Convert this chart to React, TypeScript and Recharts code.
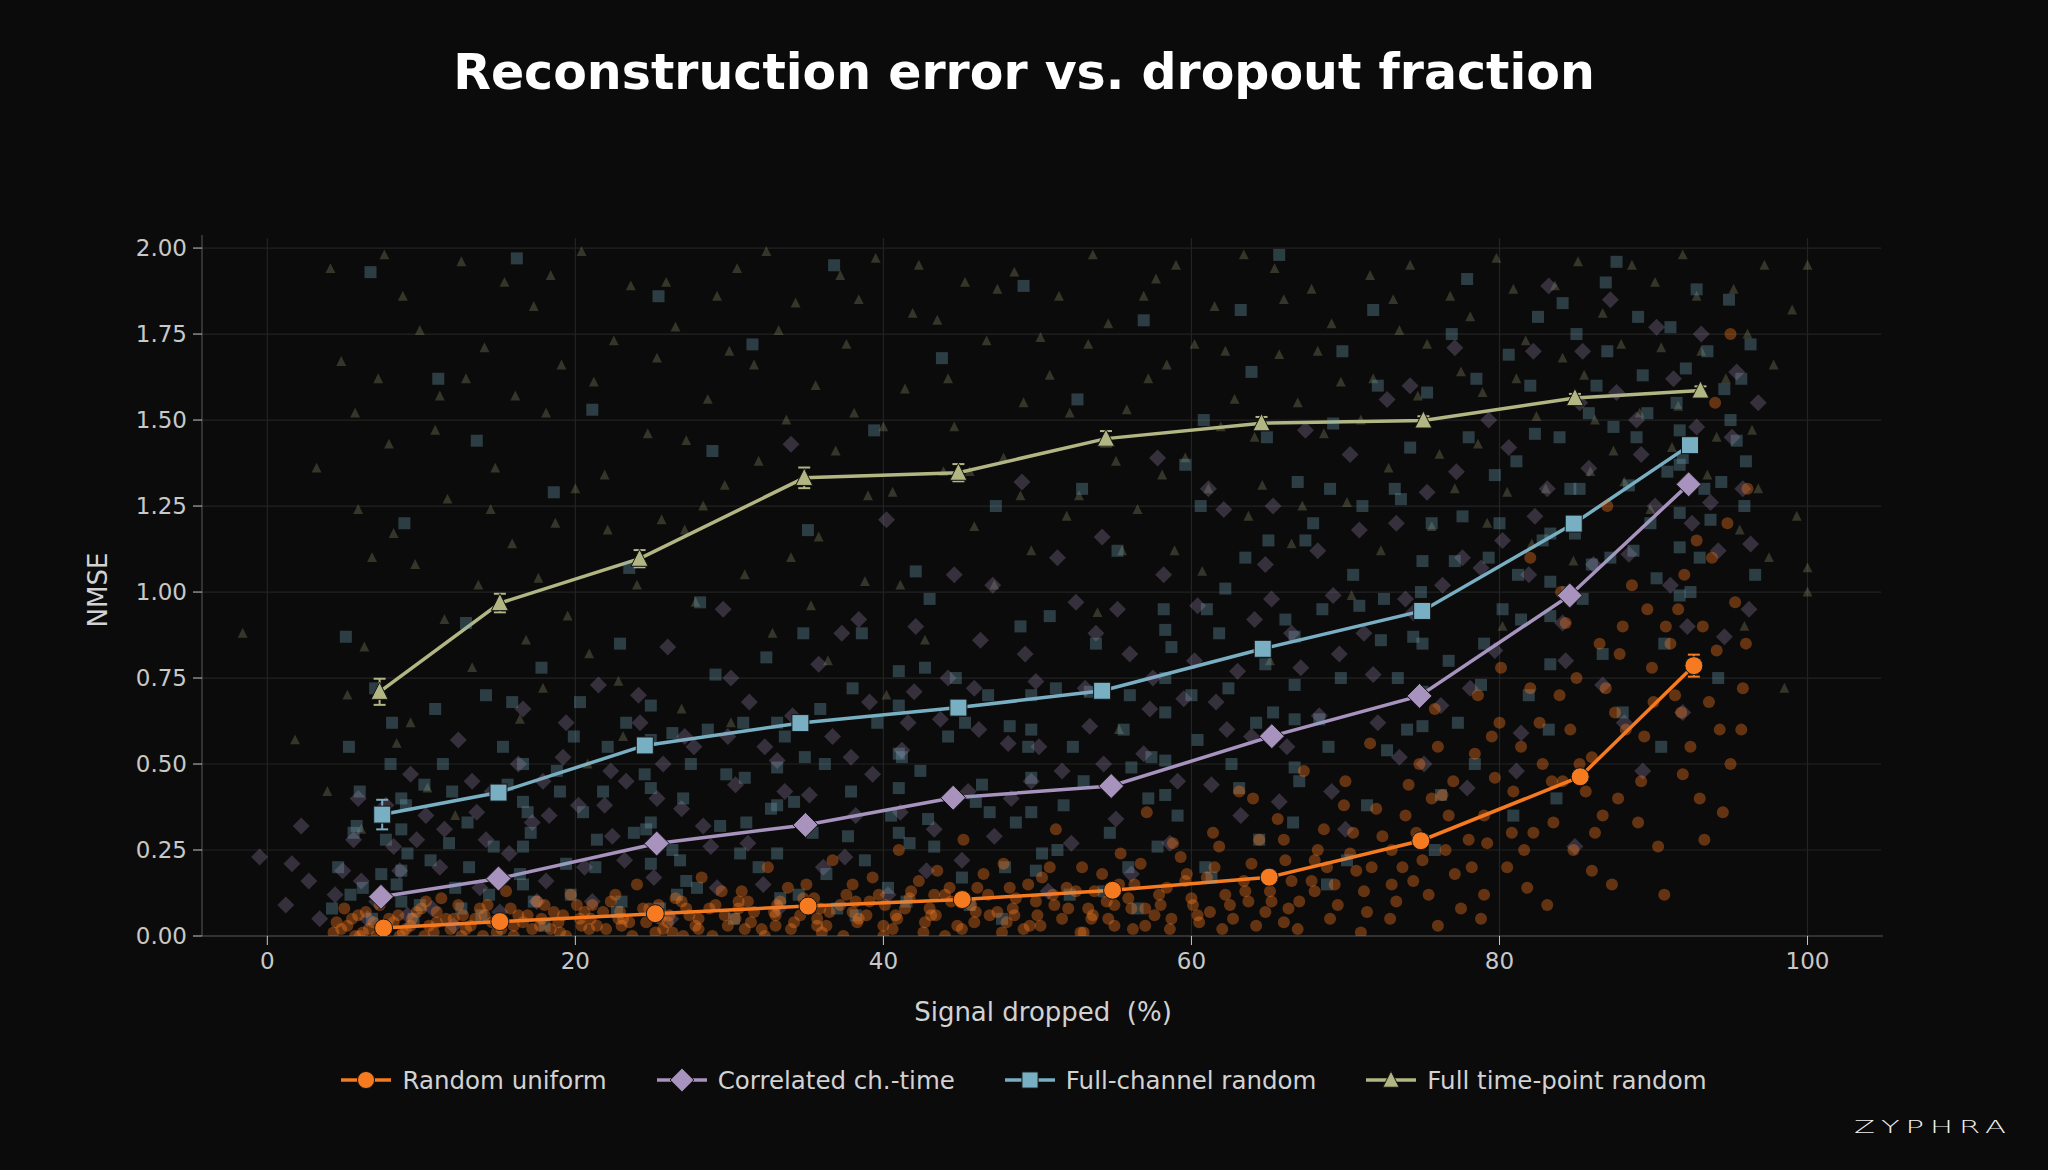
import React from 'react';
import {
  ComposedChart,
  Line,
  Scatter,
  XAxis,
  YAxis,
  ReferenceLine,
  ErrorBar
} from 'recharts';

// axis ticks
const xTicks = [0, 20, 40, 60, 80, 100];
const yTicks = [0, 0.25, 0.5, 0.75, 1.0, 1.25, 1.5, 1.75, 2.0];

// mean curves (bin centres, NMSE, std error)
const uniformX = [7.55, 15.1, 25.19, 35.11, 45.12, 54.88, 65.05, 74.89, 85.24, 92.62];
const uniformY = [0.023, 0.042, 0.065, 0.087, 0.106, 0.133, 0.171, 0.277, 0.463, 0.786];
const uniformErr = [0.005, 0.005, 0.005, 0.005, 0.005, 0.006, 0.007, 0.008, 0.012, 0.032];

const correlatedX = [7.38, 15.01, 25.28, 34.94, 44.53, 54.79, 65.22, 74.81, 84.56, 92.28];
const correlatedY = [0.114, 0.167, 0.269, 0.323, 0.402, 0.436, 0.581, 0.698, 0.99, 1.313];
const correlatedErr = [0.01, 0.008, 0.008, 0.008, 0.008, 0.008, 0.01, 0.01, 0.012, 0.015];

const channelX = [7.46, 15.01, 24.51, 34.61, 44.87, 54.2, 64.63, 74.98, 84.82, 92.37];
const channelY = [0.353, 0.417, 0.554, 0.619, 0.664, 0.713, 0.835, 0.945, 1.199, 1.427];
const channelErr = [0.043, 0.012, 0.01, 0.01, 0.01, 0.01, 0.01, 0.01, 0.012, 0.012];

const timeX = [7.29, 15.1, 24.17, 34.86, 44.87, 54.45, 64.55, 75.06, 84.9, 93.05];
const timeY = [0.71, 0.968, 1.097, 1.332, 1.347, 1.446, 1.491, 1.499, 1.564, 1.586];
const timeErr = [0.038, 0.027, 0.025, 0.03, 0.025, 0.022, 0.018, 0.012, 0.012, 0.012];

// per-trial clouds behind the curves [x, y]
const timeCloud = [
  [-1.6, 0.88], [1.8, 0.57], [3.2, 1.36], [4.1, 1.94], [4.8, 1.67], [5.9, 1.24], [6.3, 0.84], [7.2, 1.62],
  [7.9, 1.43], [8.4, 0.56], [8.8, 1.86], [9.6, 1.08], [10.4, 0.43], [11.2, 1.57], [11.7, 1.27], [12.6, 1.96],
  [13.3, 0.78], [14.1, 1.71], [14.8, 1.36], [15.9, 1.14], [16.4, 0.63], [17.3, 1.83], [18.1, 1.52], [18.7, 1.2],
  [19.5, 0.93], [20.4, 1.99], [21.2, 1.61], [21.9, 1.34], [22.8, 0.74], [23.6, 1.89], [24.7, 1.46], [25.6, 1.21],
  [26.5, 1.77], [27.8, 0.97], [28.6, 1.56], [29.7, 1.31], [30.5, 1.94], [31.6, 1.66], [32.8, 0.88], [33.7, 1.5],
  [34.3, 1.84], [35.8, 1.16], [36.9, 1.41], [37.6, 1.72], [38.8, 1.03], [39.5, 1.97], [40.6, 1.29], [41.4, 1.59],
  [42.7, 0.86], [43.5, 1.79], [44.6, 1.48], [45.9, 1.19], [46.7, 1.73], [47.8, 1.39], [48.5, 1.93], [49.6, 1.12],
  [50.8, 1.63], [51.4, 1.86], [52.7, 1.28], [53.9, 0.94], [54.6, 1.78], [55.8, 1.53], [56.5, 1.24], [57.7, 1.91],
  [58.4, 1.66], [59.6, 1.39], [60.7, 1.06], [61.5, 1.83], [62.8, 1.56], [63.4, 1.98], [64.6, 1.31], [65.7, 1.69],
  [66.5, 1.14], [67.8, 1.88], [68.6, 1.46], [69.7, 1.61], [70.4, 0.99], [71.6, 1.92], [72.8, 1.36], [73.5, 1.76],
  [74.7, 1.57], [75.6, 1.19], [76.8, 1.86], [77.5, 1.64], [78.6, 1.43], [79.8, 1.97], [80.5, 1.29], [81.7, 1.73],
  [82.4, 1.51], [83.6, 1.89], [84.8, 1.09], [85.5, 1.63], [86.7, 1.81], [87.4, 1.41], [88.6, 1.95], [89.8, 1.24],
  [90.5, 1.71], [91.6, 1.54], [92.8, 1.86], [93.5, 1.34], [94.7, 1.62], [95.6, 1.18], [96.4, 1.47], [97.8, 1.66],
  [98.5, 0.72], [100, 1.0], [100, 1.07], [100, 1.95], [6.1, 0.31], [12.2, 0.35], [20.8, 0.5], [30.1, 0.62],
  [40.2, 0.7], [55.3, 0.6], [65.1, 0.8], [80.2, 0.9], [17.6, 1.04], [27.1, 1.18], [38.1, 1.52], [58.9, 1.12],
  [5.2, 0.7], [6.8, 1.1], [9.3, 0.62], [10.9, 1.47], [13.7, 1.02], [15.4, 1.9], [17.9, 0.72], [19.1, 1.66],
  [22.1, 1.18], [23.1, 0.58], [25.3, 1.68], [27.2, 1.44], [29.2, 1.86], [31.0, 1.05], [33.2, 1.76], [35.3, 0.96],
  [37.2, 1.92], [39.0, 1.28], [41.9, 1.81], [43.9, 1.35], [45.3, 1.9], [47.2, 1.02], [49.1, 1.55], [51.9, 1.22],
  [53.3, 1.72], [55.1, 1.38], [57.2, 1.62], [59.0, 1.95], [61.1, 1.3], [62.2, 1.7], [64.1, 1.45], [66.0, 1.85],
  [67.2, 1.25], [69.1, 1.78], [71.0, 1.5], [72.3, 1.12], [74.2, 1.95], [76.1, 1.4], [78.1, 1.8], [79.2, 1.2],
  [81.1, 1.62], [83.0, 1.3], [85.1, 1.96], [86.2, 1.5], [88.1, 1.32], [90.1, 1.9], [91.2, 1.42], [93.1, 1.7],
  [95.2, 1.88], [96.8, 1.3], [99.0, 1.82], [97.2, 1.95],
  [3.9, 0.42], [5.7, 1.52], [7.6, 1.98], [8.2, 1.17], [9.9, 1.76], [11.5, 0.92], [12.9, 1.62], [14.5, 1.24],
  [16.1, 1.57], [16.8, 0.86], [18.4, 1.92], [20.0, 1.3], [20.9, 0.82], [22.5, 1.73], [24.0, 1.02], [25.9, 1.9],
  [26.9, 0.66], [28.3, 1.25], [30.0, 1.7], [31.9, 1.38], [32.4, 1.99], [34.0, 1.1], [35.6, 1.6], [36.4, 0.8],
  [38.4, 1.85], [40.0, 1.48], [41.1, 1.02], [42.3, 1.95], [44.2, 1.62], [45.6, 1.35], [47.4, 1.88], [48.9, 1.28],
  [50.2, 1.74], [52.1, 1.52], [53.6, 1.98], [55.5, 1.12], [56.9, 1.86], [58.1, 1.34], [60.2, 1.72], [61.9, 1.48],
  [63.7, 1.22], [65.4, 1.94], [66.9, 1.55], [68.2, 1.7], [70.1, 1.26], [71.8, 1.62], [73.1, 1.85], [75.3, 1.72],
  [77.1, 1.3], [78.9, 1.58], [80.9, 1.88], [82.1, 1.14], [84.1, 1.68], [85.9, 1.35], [87.9, 1.72], [89.1, 1.52],
  [91.9, 1.98], [94.1, 1.45], [96.1, 1.75], [97.5, 1.1], [99.3, 1.22], [95.9, 0.9]
];

const channelCloud = [
  [4.2, 0.08], [5.1, 0.87], [5.8, 0.32], [6.7, 1.93], [7.4, 0.18], [8.1, 0.62], [8.9, 1.2], [9.5, 0.05],
  [10.2, 0.44], [11.1, 1.62], [11.8, 0.27], [12.9, 0.91], [13.6, 1.44], [14.4, 0.12], [15.3, 0.55], [16.2, 1.97],
  [16.9, 0.36], [17.8, 0.78], [18.6, 1.29], [19.4, 0.21], [20.3, 0.68], [21.1, 1.53], [21.8, 0.42], [22.7, 0.07],
  [23.5, 1.07], [24.6, 0.31], [25.4, 1.86], [26.3, 0.59], [27.2, 0.16], [28.1, 0.97], [28.9, 1.41], [29.8, 0.47],
  [30.7, 0.24], [31.5, 1.72], [32.4, 0.81], [33.3, 0.11], [34.2, 0.39], [35.1, 1.18], [35.9, 0.66], [36.8, 1.95],
  [37.7, 0.29], [38.6, 0.88], [39.4, 1.47], [40.3, 0.14], [41.2, 0.52], [42.1, 1.06], [42.9, 0.34], [43.8, 1.68],
  [44.7, 0.75], [45.6, 0.09], [46.4, 0.44], [47.3, 1.25], [48.2, 0.61], [49.1, 1.89], [49.9, 0.19], [50.8, 0.93],
  [51.7, 0.38], [52.6, 1.56], [53.4, 0.71], [54.3, 0.13], [55.2, 1.12], [56.1, 0.49], [56.9, 1.79], [57.8, 0.26],
  [58.7, 0.84], [59.6, 1.37], [60.4, 0.57], [61.3, 0.17], [62.2, 1.01], [63.1, 0.43], [63.9, 1.64], [64.8, 0.79],
  [65.7, 1.98], [66.6, 0.33], [67.4, 1.15], [68.3, 0.63], [69.2, 1.49], [70.1, 0.22], [70.9, 0.96], [71.8, 1.82],
  [72.7, 0.54], [73.6, 1.27], [74.4, 0.87], [75.3, 1.58], [76.2, 0.41], [77.1, 1.09], [77.9, 1.91], [78.8, 0.73],
  [79.7, 1.34], [80.6, 1.69], [81.4, 0.92], [82.3, 1.46], [83.2, 0.6], [84.1, 1.84], [84.9, 1.17], [85.8, 1.52],
  [86.7, 0.82], [87.6, 1.96], [88.4, 1.31], [89.3, 1.63], [90.2, 1.04], [91.1, 1.77], [91.9, 1.39], [92.8, 1.88],
  [93.7, 1.21], [94.6, 1.59], [95.4, 1.44], [96.3, 1.72], [6.2, 0.14], [9.1, 0.24], [13.1, 0.2], [17.3, 0.1],
  [21.4, 0.28], [26.8, 0.22], [31.1, 0.33], [36.3, 0.18], [41.7, 0.27], [46.9, 0.36], [51.3, 0.25], [57.2, 0.4],
  [4.6, 0.2], [5.4, 0.12], [6.0, 0.42], [6.8, 0.05], [7.7, 0.28], [8.4, 0.15], [9.0, 0.38], [9.9, 0.09],
  [10.6, 0.22], [11.4, 0.5], [12.2, 0.14], [13.0, 0.33], [13.9, 0.06], [14.7, 0.26], [15.6, 0.44], [16.4, 0.18],
  [17.1, 0.3], [18.0, 0.03], [18.8, 0.48], [19.7, 0.12], [20.5, 0.36], [21.3, 0.2], [22.1, 0.55], [23.0, 0.1],
  [23.8, 0.3], [24.5, 0.47], [25.5, 0.08], [26.3, 0.25], [27.0, 0.4], [27.9, 0.14], [28.6, 0.6], [29.4, 0.32],
  [30.3, 0.05], [31.0, 0.46], [31.9, 0.2], [32.7, 0.37], [33.6, 0.58], [34.5, 0.12], [35.4, 0.3], [36.2, 0.5],
  [37.0, 0.08], [37.9, 0.42], [38.8, 0.22], [39.6, 0.62], [40.5, 0.35], [41.5, 0.1], [42.4, 0.48], [43.3, 0.26],
  [44.2, 0.58], [45.1, 0.17], [46.0, 0.39], [46.8, 0.7], [47.7, 0.05], [48.6, 0.33], [49.4, 0.55], [50.3, 0.24],
  [51.2, 0.72], [52.1, 0.12], [53.0, 0.45], [53.8, 0.85], [54.7, 0.3], [55.6, 0.6], [56.5, 0.08], [57.4, 0.52],
  [58.2, 0.95], [59.1, 0.35], [60.0, 0.7], [60.9, 0.2], [61.8, 0.88], [62.6, 0.5], [63.5, 1.1], [64.4, 0.28],
  [65.3, 0.65], [66.1, 0.92], [67.0, 0.45], [67.9, 1.2], [68.8, 0.15], [69.7, 0.75], [70.5, 1.05], [71.4, 0.38],
  [72.3, 0.86], [73.2, 1.3], [74.0, 0.6], [74.9, 1.0], [75.8, 0.25], [76.7, 0.8], [77.6, 1.22], [78.4, 0.5],
  [79.3, 1.1], [80.2, 0.95], [81.1, 1.38], [81.9, 0.7], [82.8, 1.15], [83.7, 0.4], [84.6, 1.3], [85.4, 0.98],
  [86.3, 1.6], [87.2, 1.1], [88.0, 0.65], [88.9, 1.45], [89.8, 1.2], [90.7, 0.85], [91.5, 1.55], [92.4, 1.0],
  [93.3, 1.3], [94.2, 0.75], [95.0, 1.5], [95.9, 1.25], [96.6, 1.05], [89.0, 1.8], [85.0, 1.75], [82.0, 1.6],
  [93.5, 1.7], [78.0, 1.45],
  [8.7, 0.1], [8.7, 0.19], [8.7, 0.31], [8.7, 0.4], [16.6, 0.15], [16.6, 0.26], [16.6, 0.39], [16.6, 0.5],
  [24.9, 0.21], [24.9, 0.33], [24.9, 0.43], [24.9, 0.57], [24.9, 0.67], [33.1, 0.24], [33.1, 0.38], [33.1, 0.49],
  [33.1, 0.62], [41.0, 0.3], [41.0, 0.43], [41.0, 0.53], [41.0, 0.67], [41.0, 0.77], [49.6, 0.36], [49.6, 0.46],
  [49.6, 0.6], [49.6, 0.7], [58.3, 0.41], [58.3, 0.51], [58.3, 0.65], [58.3, 0.75], [58.3, 0.89], [66.7, 0.49],
  [66.7, 0.63], [66.7, 0.73], [66.7, 0.87], [75.0, 0.61], [75.0, 0.71], [75.0, 0.85], [75.0, 0.95], [75.0, 1.09],
  [83.3, 0.79], [83.3, 0.93], [83.3, 1.03], [83.3, 1.17], [91.7, 0.99], [91.7, 1.13], [91.7, 1.23], [91.7, 1.37],
  [91.7, 1.47], [5.3, 0.55], [7.0, 0.72], [10.9, 0.66], [12.6, 0.08], [14.2, 0.7], [19.9, 0.58], [22.9, 0.85],
  [26.6, 0.12], [29.1, 0.76], [34.8, 0.88], [38.2, 0.06], [43.0, 0.98], [47.9, 0.2], [52.9, 1.3], [55.9, 0.2],
  [60.6, 1.25], [64.9, 1.45], [68.9, 0.55], [72.1, 1.6], [76.9, 1.75], [80.9, 0.35], [86.9, 1.9], [90.5, 0.55],
  [94.9, 1.85],
  [60.8, 1.5], [62.4, 0.72], [63.2, 1.82], [65.0, 1.15], [66.9, 1.32], [68.5, 0.95], [69.8, 1.7], [71.1, 1.25],
  [72.5, 0.98], [74.2, 1.42], [75.6, 1.2], [77.3, 0.62], [78.5, 1.62], [80.0, 1.2], [81.2, 1.05], [82.5, 1.8],
  [83.9, 1.45], [85.2, 1.3], [86.0, 1.08], [87.4, 1.48], [88.7, 1.12], [89.6, 1.52], [90.9, 1.35], [92.1, 1.65],
  [93.0, 1.1], [94.4, 1.32], [95.7, 1.62], [96.0, 1.38], [87.0, 1.7], [84.4, 1.0], [79.0, 0.85], [73.4, 0.75],
  [69.0, 1.3], [64.2, 0.62], [61.0, 0.95], [56.0, 0.7], [52.3, 0.55], [48.9, 0.9], [45.3, 0.62], [42.7, 0.78],
  [38.0, 0.72], [34.9, 0.52], [30.9, 0.62], [27.5, 0.5], [23.3, 0.62], [19.0, 0.42], [15.9, 0.68], [12.0, 0.42],
  [8.0, 0.5], [5.6, 0.3]
];

const correlatedCloud = [
  [-0.5, 0.23], [1.6, 0.21], [1.2, 0.09], [2.7, 0.16], [4.4, 0.12], [5.6, 0.28], [6.5, 0.05], [7.7, 0.38],
  [8.6, 0.19], [9.3, 0.47], [10.7, 0.08], [11.5, 0.31], [12.4, 0.57], [13.8, 0.14], [14.6, 0.42], [15.7, 0.24],
  [16.6, 0.66], [17.5, 0.1], [18.3, 0.35], [19.2, 0.52], [20.6, 0.2], [21.5, 0.73], [22.4, 0.29], [23.3, 0.45],
  [24.2, 0.62], [25.1, 0.17], [26.0, 0.84], [26.9, 0.37], [27.7, 0.55], [28.8, 0.26], [29.6, 0.95], [30.4, 0.44],
  [31.3, 0.68], [32.2, 0.15], [33.1, 0.51], [34.0, 1.43], [34.9, 0.33], [35.8, 0.79], [36.7, 0.58], [37.5, 0.23],
  [38.4, 0.92], [39.3, 0.47], [40.2, 1.21], [41.1, 0.36], [42.0, 0.71], [42.8, 0.19], [43.7, 0.63], [44.6, 1.05],
  [45.5, 0.42], [46.3, 0.86], [47.2, 0.29], [48.1, 0.56], [49.0, 1.32], [49.9, 0.74], [50.7, 0.13], [51.6, 0.48],
  [52.5, 0.97], [53.4, 0.61], [54.2, 1.16], [55.1, 0.34], [56.0, 0.82], [56.9, 0.53], [57.8, 1.39], [58.6, 0.27],
  [59.5, 0.69], [60.4, 0.96], [61.3, 0.44], [62.1, 1.24], [63.0, 0.77], [63.9, 0.58], [64.8, 1.08], [65.7, 0.39],
  [66.5, 0.88], [67.4, 1.47], [68.3, 0.64], [69.2, 0.99], [70.0, 0.31], [70.9, 1.18], [71.8, 0.76], [72.7, 1.56],
  [73.5, 0.52], [74.4, 0.94], [75.3, 1.29], [76.2, 0.67], [77.1, 1.71], [77.9, 0.43], [78.8, 1.07], [79.7, 0.83],
  [80.6, 1.42], [81.4, 0.59], [82.3, 1.22], [83.2, 1.89], [84.1, 0.91], [84.9, 0.26], [85.8, 1.36], [86.7, 0.73],
  [87.6, 1.58], [88.4, 1.11], [89.3, 0.48], [90.2, 1.77], [91.1, 1.02], [91.9, 0.65], [92.8, 1.48], [93.7, 1.26],
  [94.6, 0.87], [95.4, 1.64], [96.3, 1.14],
  [3.4, 0.05], [4.9, 0.19], [5.9, 0.4], [7.1, 0.1], [8.2, 0.26], [9.1, 0.06], [10.3, 0.35], [11.2, 0.2],
  [12.1, 0.03], [13.3, 0.45], [14.2, 0.28], [15.1, 0.07], [16.3, 0.5], [17.2, 0.33], [18.1, 0.16], [19.4, 0.62],
  [20.2, 0.38], [21.1, 0.1], [22.3, 0.48], [23.2, 0.22], [24.1, 0.7], [25.3, 0.4], [26.2, 0.05], [27.1, 0.58],
  [28.3, 0.32], [29.2, 0.14], [30.1, 0.75], [31.2, 0.27], [32.3, 0.55], [33.2, 0.08], [34.1, 0.64], [35.2, 0.41],
  [36.1, 0.2], [37.3, 0.88], [38.2, 0.35], [39.1, 0.68], [40.3, 0.12], [41.2, 0.54], [42.1, 0.9], [43.3, 0.31],
  [44.2, 0.75], [45.1, 0.22], [46.2, 0.6], [47.1, 1.02], [48.3, 0.4], [49.2, 0.82], [50.1, 0.55], [51.3, 1.1],
  [52.2, 0.27], [53.1, 0.72], [54.3, 0.5], [55.2, 0.95], [56.1, 0.18], [57.3, 0.66], [58.2, 1.05], [59.1, 0.45],
  [60.2, 0.8], [61.1, 1.3], [62.3, 0.6], [63.2, 0.35], [64.1, 0.92], [65.3, 1.25], [66.2, 0.55], [67.1, 0.78],
  [68.2, 1.12], [69.1, 0.42], [70.3, 1.4], [71.2, 0.88], [72.1, 0.62], [73.3, 1.2], [74.2, 1.6], [75.1, 0.5],
  [76.3, 1.02], [77.2, 1.35], [78.1, 0.72], [79.3, 1.5], [80.2, 1.15], [81.1, 0.48], [82.2, 1.7], [83.1, 1.3],
  [84.3, 0.8], [85.2, 1.55], [86.1, 1.08], [87.2, 1.85], [88.1, 0.62], [89.2, 1.4], [90.1, 1.25], [91.3, 1.62],
  [92.2, 0.9], [93.1, 1.75], [94.2, 1.12], [95.1, 1.45], [96.2, 0.95],
  [2.2, 0.32], [6.1, 0.16], [9.7, 0.28], [13.6, 0.36], [17.9, 0.45], [21.9, 0.38], [25.7, 0.5], [29.9, 0.58],
  [33.6, 0.42], [37.9, 0.52], [41.6, 0.62], [45.9, 0.72], [49.6, 0.45], [53.8, 0.88], [57.5, 0.75], [61.6, 0.68],
  [65.2, 0.98], [69.6, 0.82], [73.9, 0.98], [77.6, 1.1], [81.9, 1.05], [85.4, 1.7], [88.9, 1.5], [92.5, 1.2],
  [95.8, 1.3], [96.8, 1.55]
];

const uniformCloud = [
  [4.3, 0.01], [5.2, 0.03], [5.9, 0.06], [6.6, 0.02], [7.3, 0.09], [8.2, 0.04], [8.8, 0.01], [9.7, 0.07],
  [10.5, 0.03], [11.3, 0.11], [12.1, 0.05], [12.9, 0.02], [13.8, 0.08], [14.6, 0.04], [15.5, 0.13], [16.3, 0.06],
  [17.2, 0.02], [18.0, 0.09], [18.9, 0.04], [19.7, 0.12], [20.6, 0.07], [21.4, 0.03], [22.3, 0.1], [23.1, 0.05],
  [24.0, 0.15], [24.8, 0.08], [25.7, 0.02], [26.5, 0.11], [27.4, 0.06], [28.2, 0.17], [29.1, 0.09], [29.9, 0.03],
  [30.8, 0.13], [31.6, 0.07], [32.5, 0.2], [33.3, 0.1], [34.2, 0.04], [35.0, 0.15], [35.9, 0.08], [36.7, 0.22],
  [37.6, 0.12], [38.4, 0.05], [39.3, 0.17], [40.1, 0.09], [41.0, 0.25], [41.8, 0.13], [42.7, 0.04], [43.5, 0.19],
  [44.4, 0.1], [45.2, 0.28], [46.1, 0.14], [46.9, 0.06], [47.8, 0.21], [48.6, 0.11], [49.5, 0.03], [50.3, 0.17],
  [51.2, 0.31], [52.0, 0.08], [52.9, 0.2], [53.7, 0.13], [54.6, 0.05], [55.4, 0.24], [56.3, 0.15], [57.1, 0.36],
  [58.0, 0.09], [58.8, 0.27], [59.7, 0.18], [60.5, 0.04], [61.4, 0.3], [62.2, 0.12], [63.1, 0.42], [63.9, 0.21],
  [64.8, 0.07], [65.6, 0.34], [66.5, 0.16], [67.3, 0.48], [68.2, 0.25], [69.0, 0.05], [69.9, 0.38], [70.7, 0.19],
  [71.6, 0.56], [72.4, 0.29], [73.3, 0.1], [74.1, 0.44], [75.0, 0.22], [75.8, 0.66], [76.7, 0.35], [77.5, 0.08],
  [78.4, 0.53], [79.2, 0.27], [80.1, 0.78], [80.9, 0.42], [81.8, 0.14], [82.6, 0.62], [83.5, 0.33], [84.3, 0.91],
  [85.2, 0.5], [86.0, 0.19], [86.9, 0.72], [87.7, 0.4], [88.6, 1.02], [89.4, 0.58], [90.3, 0.26], [91.1, 0.85],
  [91.9, 0.47], [92.8, 1.15], [93.6, 0.68], [94.5, 0.36], [95.3, 0.97], [96.1, 1.3], [94.0, 1.55], [95.0, 1.75],
  [82.0, 1.1], [87.0, 1.25], [6.0, 0.0], [9.0, 0.02], [14.0, 0.0], [19.0, 0.01], [23.0, 0.03], [27.0, 0.0],
  [31.0, 0.02], [36.0, 0.01], [40.0, 0.03], [44.0, 0.0], [48.0, 0.04], [53.0, 0.01], [57.0, 0.03], [62.0, 0.02],
  [66.0, 0.04], [71.0, 0.01], [76.0, 0.03], [11.0, 0.04], [16.0, 0.03], [21.0, 0.05], [26.0, 0.04], [33.0, 0.06],
  [38.0, 0.07], [43.0, 0.08], [50.0, 0.06], [55.0, 0.09], [60.0, 0.11], [68.0, 0.13], [73.0, 0.15], [79.0, 0.12],
  [4.8, 0.02], [5.5, 0.05], [6.2, 0.01], [6.9, 0.04], [7.6, 0.02], [8.5, 0.06], [9.3, 0.03], [10.0, 0.08],
  [10.8, 0.01], [11.6, 0.05], [12.4, 0.09], [13.2, 0.03], [14.1, 0.06], [14.9, 0.01], [15.8, 0.08], [16.6, 0.04],
  [17.5, 0.1], [18.4, 0.02], [19.2, 0.06], [20.1, 0.09], [20.9, 0.02], [21.8, 0.07], [22.6, 0.12], [23.5, 0.04],
  [24.4, 0.08], [25.2, 0.01], [26.1, 0.06], [26.9, 0.1], [27.8, 0.03], [28.7, 0.08], [29.5, 0.13], [30.4, 0.05],
  [31.2, 0.1], [32.1, 0.02], [32.9, 0.07], [33.8, 0.14], [34.6, 0.06], [35.5, 0.11], [36.3, 0.03], [37.2, 0.09],
  [38.0, 0.15], [38.9, 0.06], [39.7, 0.12], [40.6, 0.02], [41.4, 0.08], [42.3, 0.16], [43.1, 0.06], [44.0, 0.12],
  [44.8, 0.03], [45.7, 0.09], [46.5, 0.18], [47.4, 0.07], [48.2, 0.14], [49.1, 0.02], [49.9, 0.1], [50.8, 0.2],
  [51.6, 0.05], [52.5, 0.13], [53.3, 0.08], [54.2, 0.18], [55.0, 0.03], [55.9, 0.11], [56.7, 0.21], [57.6, 0.06],
  [58.4, 0.14], [59.3, 0.23], [60.1, 0.09], [61.0, 0.17], [61.8, 0.26], [62.7, 0.05], [63.5, 0.13], [64.4, 0.28],
  [65.2, 0.1], [66.1, 0.22], [66.9, 0.02], [67.8, 0.16], [68.6, 0.31], [69.5, 0.09], [70.3, 0.24], [71.2, 0.13],
  [72.0, 0.37], [72.9, 0.05], [73.7, 0.2], [74.6, 0.3], [75.4, 0.12], [76.3, 0.41], [77.1, 0.18], [78.0, 0.28],
  [78.8, 0.05], [79.7, 0.46], [80.5, 0.2], [81.4, 0.55], [82.2, 0.3], [83.1, 0.09], [83.9, 0.7], [84.8, 0.25],
  [85.6, 0.42], [86.5, 0.85], [87.3, 0.15], [88.2, 0.6], [89.0, 0.33], [89.9, 0.78], [90.7, 0.12], [91.6, 0.95],
  [92.4, 0.55], [93.3, 0.28], [94.1, 0.83], [95.0, 0.5], [95.8, 0.72], [93.0, 0.4], [90.0, 0.68], [86.0, 0.52],
  [84.0, 1.0], [88.0, 0.9], [92.0, 1.05], [80.0, 0.62], [76.0, 0.55], [70.0, 0.45], [64.0, 0.4],
  [5.0, 0.08], [7.9, 0.05], [10.3, 0.1], [12.7, 0.06], [15.2, 0.02], [17.8, 0.05], [20.4, 0.03], [22.9, 0.07],
  [25.5, 0.05], [28.0, 0.02], [30.6, 0.08], [33.0, 0.03], [35.7, 0.05], [38.2, 0.1], [40.8, 0.06], [43.3, 0.12],
  [45.9, 0.04], [48.4, 0.08], [51.0, 0.12], [53.5, 0.05], [56.1, 0.08], [58.6, 0.02], [61.2, 0.07], [63.7, 0.1],
  [66.3, 0.08], [68.8, 0.2], [71.4, 0.07], [73.9, 0.35], [76.5, 0.25], [79.0, 0.35], [81.6, 0.25], [84.1, 0.45],
  [86.7, 0.35], [89.2, 0.45], [91.8, 0.65], [94.3, 0.6], [96.0, 0.85], [93.8, 1.1], [90.8, 0.9], [87.5, 0.65],
  [85.0, 0.75], [82.8, 0.5], [78.6, 0.7], [74.8, 0.5],
  [4.5, 0.04], [5.7, 0.0], [6.4, 0.07], [7.1, 0.0], [7.8, 0.03], [8.6, 0.0], [9.4, 0.05], [10.2, 0.0],
  [11.0, 0.07], [11.9, 0.02], [12.6, 0.0], [13.5, 0.05], [14.3, 0.09], [15.1, 0.03], [16.0, 0.0], [16.9, 0.06],
  [17.7, 0.03], [18.6, 0.07], [19.4, 0.0], [20.3, 0.05], [21.1, 0.09], [22.0, 0.02], [22.8, 0.05], [23.7, 0.0],
  [24.6, 0.04], [25.4, 0.09], [26.3, 0.01], [27.2, 0.08], [28.0, 0.05], [28.9, 0.0], [29.7, 0.06], [30.6, 0.1],
  [31.4, 0.04], [32.3, 0.0], [33.1, 0.09], [34.0, 0.02], [34.8, 0.11], [35.7, 0.03], [36.5, 0.07], [37.4, 0.0],
  [38.3, 0.04], [39.1, 0.1], [40.0, 0.0], [40.9, 0.05], [41.7, 0.11], [42.6, 0.01], [43.4, 0.06], [44.3, 0.14],
  [45.1, 0.02], [46.0, 0.07], [46.8, 0.12], [47.7, 0.01], [48.5, 0.06], [49.4, 0.15], [50.2, 0.03], [51.1, 0.09],
  [51.9, 0.14], [52.8, 0.01], [53.6, 0.06], [54.5, 0.1], [55.3, 0.15], [56.2, 0.02], [57.0, 0.08], [57.9, 0.12],
  [58.7, 0.05], [59.6, 0.16], [60.4, 0.06], [61.5, 0.2], [62.5, 0.09], [63.4, 0.16], [64.2, 0.03], [65.1, 0.13],
  [66.0, 0.28], [67.0, 0.1], [68.0, 0.22], [69.3, 0.15], [70.5, 0.3], [71.7, 0.2], [73.0, 0.25], [74.4, 0.16],
  [75.6, 0.4], [77.0, 0.45], [78.2, 0.2], [79.5, 0.58], [80.8, 0.3], [82.0, 0.72], [83.4, 0.45], [84.6, 0.6],
  [86.2, 0.3], [87.8, 0.82], [89.6, 0.95], [91.4, 0.7], [93.2, 0.9], [94.8, 1.2], [95.7, 0.6]
];

const COLORS = {
  uniform: '#f67a1f',
  correlated: '#a793be',
  channel: '#79afc3',
  time: '#b2b683'
};

const toSeries = (xs: number[], ys: number[], errs: number[]) =>
  xs.map((x, i) => ({ x, y: ys[i], err: errs[i] }));
const toCloud = (pts: number[][]) => pts.map(([x, y]) => ({ x, y }));

const uniformData = toSeries(uniformX, uniformY, uniformErr);
const correlatedData = toSeries(correlatedX, correlatedY, correlatedErr);
const channelData = toSeries(channelX, channelY, channelErr);
const timeData = toSeries(timeX, timeY, timeErr);

type Kind = 'circle' | 'diamond' | 'square' | 'triangle';

const Mark = ({ kind, cx, cy, size, fill, opacity = 1, stroke = 'none', strokeWidth = 0 }: any) => {
  const r = size / 2;
  const common = { fill, fillOpacity: opacity, stroke, strokeWidth };
  if (cx == null || cy == null) return null;
  if (kind === 'circle') return <circle cx={cx} cy={cy} r={r} {...common} />;
  if (kind === 'square') return <rect x={cx - r} y={cy - r} width={size} height={size} {...common} />;
  if (kind === 'diamond')
    return <polygon points={`${cx},${cy - r} ${cx + r},${cy} ${cx},${cy + r} ${cx - r},${cy}`} {...common} />;
  return <polygon points={`${cx},${cy - r} ${cx + r * 0.9},${cy + r * 0.8} ${cx - r * 0.9},${cy + r * 0.8}`} {...common} />;
};

const series = [
  { name: 'Random uniform', kind: 'circle' as Kind, color: COLORS.uniform, size: 18, data: uniformData },
  { name: 'Correlated ch.-time', kind: 'diamond' as Kind, color: COLORS.correlated, size: 25, data: correlatedData },
  { name: 'Full-channel random', kind: 'square' as Kind, color: COLORS.channel, size: 17, data: channelData },
  { name: 'Full time-point random', kind: 'triangle' as Kind, color: COLORS.time, size: 19, data: timeData }
];

const clouds = [
  { kind: 'triangle' as Kind, color: COLORS.time, size: 11, opacity: 0.25, data: toCloud(timeCloud) },
  { kind: 'square' as Kind, color: COLORS.channel, size: 12, opacity: 0.31, data: toCloud(channelCloud) },
  { kind: 'diamond' as Kind, color: COLORS.correlated, size: 17, opacity: 0.27, data: toCloud(correlatedCloud) },
  { kind: 'circle' as Kind, color: COLORS.uniform, size: 12, opacity: 0.38, data: toCloud(uniformCloud) }
];

const FONT = '"DejaVu Sans", Verdana, sans-serif';
const BG = '#0b0b0b';
const gridStroke = '#232323';

export default function App() {
  return (
    <div style={{ position: 'fixed', left: 0, top: 0, width: 2048, height: 1170, background: BG, fontFamily: FONT, overflow: 'hidden' }}>
      <div style={{ position: 'absolute', left: 0, top: 42, width: 2048, textAlign: 'center', color: '#ffffff', fontSize: 49, fontWeight: 700, lineHeight: '62px' }}>
        Reconstruction error vs. dropout fraction
      </div>

      <ComposedChart
        width={2048}
        height={1170}
        margin={{ top: 235, right: 165, bottom: 134, left: 0 }}
        accessibilityLayer={false}
      >
        <XAxis
          type="number"
          dataKey="x"
          domain={[-4.24, 104.9]}
          allowDataOverflow
          ticks={xTicks}
          height={100}
          axisLine={{ stroke: '#5a5a5a' }}
          tickSize={9}
          tickMargin={8}
          tickLine={{ stroke: '#c8c8c8' }}
          tick={{ fill: '#c8c8c8', fontSize: 23, fontFamily: FONT }}
        />
        <YAxis
          type="number"
          domain={[0, 2.038]}
          allowDataOverflow
          ticks={yTicks}
          width={202}
          axisLine={{ stroke: '#5a5a5a' }}
          tickSize={9}
          tickMargin={6}
          tickLine={{ stroke: '#c8c8c8' }}
          tick={{ fill: '#c8c8c8', fontSize: 23, fontFamily: FONT }}
          tickFormatter={(v: number) => v.toFixed(2)}
        />

        {xTicks.map((t) => (
          <ReferenceLine key={`gx-${t}`} x={t} stroke={gridStroke} strokeWidth={1.2} />
        ))}
        {yTicks.filter((t) => t > 0).map((t) => (
          <ReferenceLine key={`gy-${t}`} y={t} stroke={gridStroke} strokeWidth={1.2} />
        ))}

        {clouds.map((c, i) => (
          <Scatter
            key={`cloud-${i}`}
            data={c.data}
            dataKey="y"
            isAnimationActive={false}
            shape={(p: any) => <Mark kind={c.kind} cx={p.cx} cy={p.cy} size={c.size} fill={c.color} opacity={c.opacity} />}
          />
        ))}

        {series.map((s) => (
          <Line
            key={s.name}
            data={s.data}
            dataKey="y"
            type="linear"
            stroke={s.color}
            strokeWidth={3.5}
            isAnimationActive={false}
            dot={(p: any) => (
              <Mark key={`${s.name}-${p.index}`} kind={s.kind} cx={p.cx} cy={p.cy} size={s.size} fill={s.color} stroke="#141414" strokeWidth={1} />
            )}
            activeDot={false}
          >
            <ErrorBar dataKey="err" direction="y" width={6} stroke={s.color} strokeWidth={2} />
          </Line>
        ))}
      </ComposedChart>

      {/* keep the top and right sides of the plot open */}
      <div style={{ position: 'absolute', left: 204, top: 226, width: 1700, height: 12, background: BG }} />
      <div style={{ position: 'absolute', left: 1881, top: 226, width: 16, height: 709, background: BG }} />

      <div style={{ position: 'absolute', left: 98, top: 590, transform: 'translate(-50%, -50%) rotate(-90deg)', color: '#d2d2d2', fontSize: 26, whiteSpace: 'nowrap' }}>
        NMSE
      </div>
      <div style={{ position: 'absolute', left: 1043, top: 1012, transform: 'translate(-50%, -50%)', color: '#d2d2d2', fontSize: 26, whiteSpace: 'pre' }}>
        {'Signal dropped  (%)'}
      </div>

      <div style={{ position: 'absolute', left: 0, top: 1080, width: 2048, transform: 'translateY(-50%)', display: 'flex', justifyContent: 'center', gap: 50 }}>
        {series.map((s) => (
          <div key={s.name} style={{ display: 'flex', alignItems: 'center', gap: 11 }}>
            <svg width={50} height={30}>
              <line x1={0} y1={15} x2={50} y2={15} stroke={s.color} strokeWidth={3.5} />
              <Mark kind={s.kind} cx={25} cy={15} size={s.size * 0.95} fill={s.color} stroke="#141414" strokeWidth={1} />
            </svg>
            <span style={{ color: '#d2d2d2', fontSize: 24.5, whiteSpace: 'nowrap' }}>{s.name}</span>
          </div>
        ))}
      </div>

      <div style={{ position: 'absolute', right: 36, top: 1126, transform: 'translateY(-50%) scaleX(1.7)', transformOrigin: 'right center', color: '#f0f0f0', fontSize: 18, fontWeight: 200, letterSpacing: 3.5 }}>
        ZYPHRA
      </div>
    </div>
  );
}
